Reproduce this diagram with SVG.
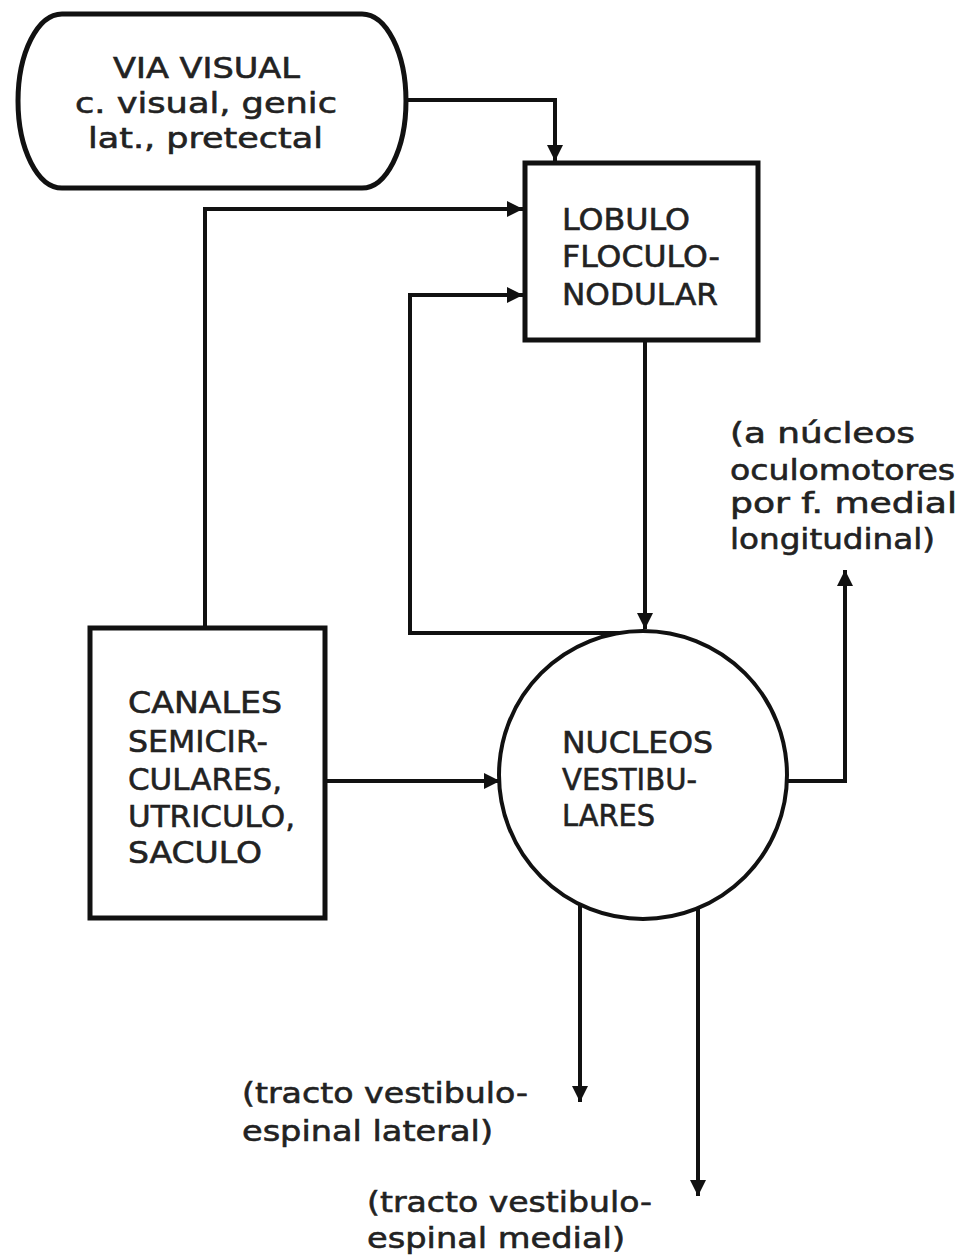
<svg xmlns="http://www.w3.org/2000/svg" width="963" height="1257" viewBox="0 0 963 1257">
<defs>
<style>
.box{fill:#fff;stroke:#111;stroke-width:5}
.circ{fill:#fff;stroke:#111;stroke-width:4}
.con{fill:none;stroke:#111;stroke-width:4}
.t{font-family:"DejaVu Sans","Liberation Sans",sans-serif;font-size:31px;fill:#222;stroke:#222;stroke-width:0.6}
.s{font-family:"DejaVu Sans","Liberation Sans",sans-serif;font-size:29px;fill:#222;stroke:#222;stroke-width:0.6}
</style>
<marker id="ah" viewBox="0 0 10 10" refX="10" refY="5" markerWidth="17" markerHeight="16" markerUnits="userSpaceOnUse" orient="auto">
<path d="M0,0 L10,5 L0,10 Z" fill="#111"/>
</marker>
</defs>
<rect width="963" height="1257" fill="#fff"/>
<g id="connectors">
<path class="con" d="M405,100 H555 V161" marker-end="url(#ah)"/>
<path class="con" d="M205,628 V209 H523" marker-end="url(#ah)"/>
<path class="con" d="M620,633 H410 V295 H523" marker-end="url(#ah)"/>
<path class="con" d="M645,340 V629" marker-end="url(#ah)"/>
<path class="con" d="M325,781 H500" marker-end="url(#ah)"/>
<path class="con" d="M786,781 H845 V570" marker-end="url(#ah)"/>
<path class="con" d="M580,905 V1102" marker-end="url(#ah)"/>
<path class="con" d="M698,907 V1196" marker-end="url(#ah)"/>
</g>
<g id="via-visual">
<path class="box" d="M62,14 H362 A44,87 0 0 1 362,188 H62 A44,87 0 0 1 62,14 Z"/>
<text class="s" x="113" y="78" textLength="187" lengthAdjust="spacingAndGlyphs">VIA VISUAL</text>
<text class="s" x="75" y="113" textLength="262" lengthAdjust="spacingAndGlyphs">c. visual, genic</text>
<text class="s" x="88" y="148" textLength="235" lengthAdjust="spacingAndGlyphs">lat., pretectal</text>
</g>
<g id="lobulo">
<rect class="box" x="525" y="163" width="233" height="177"/>
<text class="t" x="562" y="230" textLength="128" lengthAdjust="spacingAndGlyphs">LOBULO</text>
<text class="t" x="562" y="267" textLength="158" lengthAdjust="spacingAndGlyphs">FLOCULO-</text>
<text class="t" x="562" y="305" textLength="156" lengthAdjust="spacingAndGlyphs">NODULAR</text>
</g>
<g id="canales">
<rect class="box" x="90" y="628" width="235" height="290"/>
<text class="t" x="128" y="713" textLength="154" lengthAdjust="spacingAndGlyphs">CANALES</text>
<text class="t" x="128" y="752" textLength="140" lengthAdjust="spacingAndGlyphs">SEMICIR-</text>
<text class="t" x="128" y="790" textLength="154" lengthAdjust="spacingAndGlyphs">CULARES,</text>
<text class="t" x="128" y="827" textLength="167" lengthAdjust="spacingAndGlyphs">UTRICULO,</text>
<text class="t" x="128" y="863" textLength="134" lengthAdjust="spacingAndGlyphs">SACULO</text>
</g>
<g id="nucleos">
<circle class="circ" cx="643" cy="775" r="144"/>
<text class="t" x="562" y="753" textLength="151" lengthAdjust="spacingAndGlyphs">NUCLEOS</text>
<text class="t" x="562" y="790" textLength="135" lengthAdjust="spacingAndGlyphs">VESTIBU-</text>
<text class="t" x="562" y="826" textLength="93" lengthAdjust="spacingAndGlyphs">LARES</text>
</g>
<g id="label-oculomotores">
<text class="s" x="730" y="443" textLength="185" lengthAdjust="spacingAndGlyphs">(a núcleos</text>
<text class="s" x="730" y="480" textLength="225" lengthAdjust="spacingAndGlyphs">oculomotores</text>
<text class="s" x="730" y="513" textLength="227" lengthAdjust="spacingAndGlyphs">por f. medial</text>
<text class="s" x="730" y="549" textLength="205" lengthAdjust="spacingAndGlyphs">longitudinal)</text>
</g>
<g id="label-lateral">
<text class="s" x="242" y="1103" textLength="286" lengthAdjust="spacingAndGlyphs">(tracto vestibulo-</text>
<text class="s" x="242" y="1141" textLength="251" lengthAdjust="spacingAndGlyphs">espinal lateral)</text>
</g>
<g id="label-medial">
<text class="s" x="367" y="1212" textLength="285" lengthAdjust="spacingAndGlyphs">(tracto vestibulo-</text>
<text class="s" x="367" y="1248" textLength="258" lengthAdjust="spacingAndGlyphs">espinal medial)</text>
</g>
</svg>
